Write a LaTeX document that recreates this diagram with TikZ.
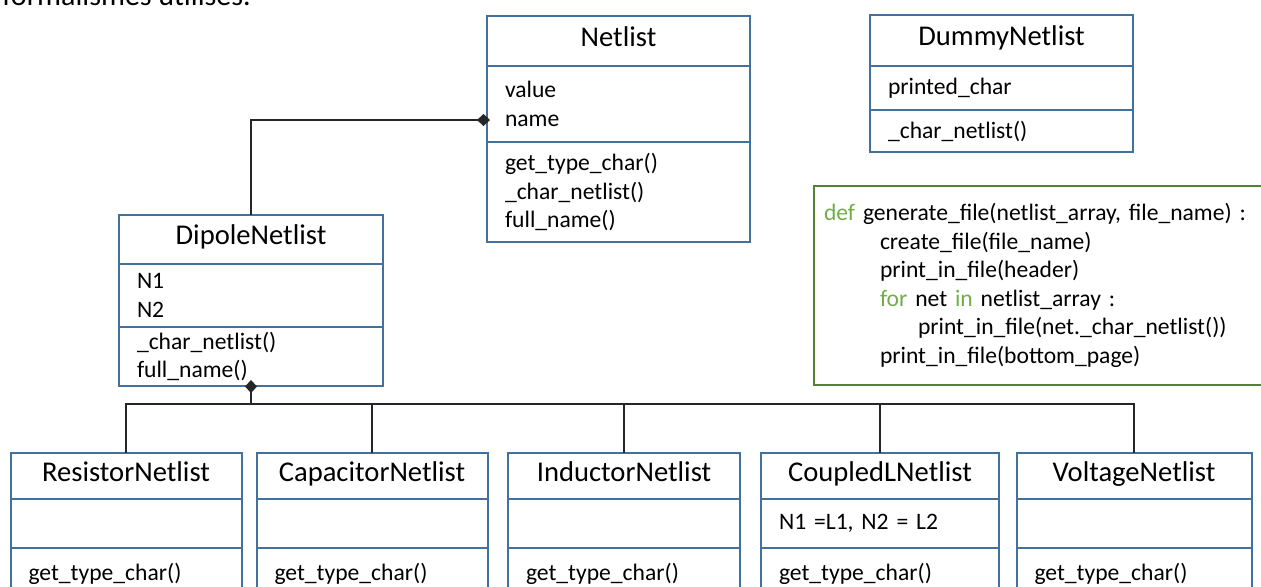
\documentclass[tikz,border=0pt]{standalone}
\usepackage{fontspec}
\setmainfont{Carlito}
\definecolor{umlblue}{RGB}{65,113,156}
\definecolor{codegreen}{RGB}{84,130,53}
\definecolor{keygreen}{RGB}{112,173,71}
\usetikzlibrary{arrows.meta,positioning}
\newcommand{\kw}[1]{\textcolor{keygreen}{#1}}
\newcommand{\headfont}{\fontsize{14.3}{17}\selectfont}
\newcommand{\bodyfont}{\fontsize{11.8}{14.25}\selectfont}
\tikzset{
    headbox/.style={draw=umlblue, line width=1pt, outer sep=0pt, inner sep=0pt,
                    text height=10pt, text depth=5pt, align=center, font=\headfont},
    partbox/.style={draw=umlblue, line width=1pt, outer sep=0pt, inner xsep=9pt,
                    inner ysep=0pt, align=left, font=\bodyfont},
    link/.style={draw=black!85, line width=0.6pt},
    owns/.style={link, -{Diamond[length=6.5pt,width=6pt]}, shorten >=#1},
    owns/.default=-3pt
}

\begin{document}
\begin{tikzpicture}[x=0.5pt, y=-0.5pt]
    \useasboundingbox (0,0) rectangle (1261,586);
    \node[anchor=base west, inner sep=0pt, font=\fontsize{15}{18}\selectfont] (intro) at (2,5) {formalismes utilisés.};

    % base class
    \node[headbox, anchor=north west, minimum width=131.5pt, minimum height=25pt] (net-head) at (487,16) {Netlist};
    \node[partbox, below=0pt of net-head, text width=113.5pt, minimum height=38pt] (net-attr) {value\\name};
    \node[partbox, below=0pt of net-attr, text width=113.5pt, minimum height=50pt] (net-ops)
        {get\_type\_char()\\\_char\_netlist()\\full\_name()};
    \coordinate (net-name) at ([yshift=-8pt]net-attr.west);

    \node[headbox, anchor=north west, minimum width=131.5pt, minimum height=25.5pt] (dummy-head) at (870,15) {DummyNetlist};
    \node[partbox, below=0pt of dummy-head, text width=113.5pt, minimum height=22pt] (dummy-attr) {printed\_char};
    \node[partbox, below=0pt of dummy-attr, text width=113.5pt, minimum height=21pt] (dummy-ops) {\_char\_netlist()};

    \node[headbox, anchor=north west, minimum width=132pt, minimum height=24.5pt] (dip-head) at (119,215) {DipoleNetlist};
    \node[partbox, below=0pt of dip-head, text width=114pt, minimum height=31.5pt] (dip-attr) {N1\\N2};
    \node[partbox, below=0pt of dip-attr, text width=114pt, minimum height=29.5pt] (dip-ops) {\_char\_netlist()\\full\_name()};
    \coordinate (bus) at ([yshift=-9pt]dip-ops.south);

    % code
    \node[draw=codegreen, line width=1pt, anchor=north west, inner xsep=5pt, inner ysep=0pt,
          text width=225pt, minimum height=99.5pt, align=left, font=\bodyfont] (gen-code) at (813,185) {
      \kw{def} generate\_file(netlist\_array, file\_name) :\\
      \hspace*{28pt}create\_file(file\_name)\\
      \hspace*{28pt}print\_in\_file(header)\\
      \hspace*{28pt}\kw{for} net \kw{in} netlist\_array :\\
      \hspace*{47pt}print\_in\_file(net.\_char\_netlist())\\
      \hspace*{28pt}print\_in\_file(bottom\_page)};

    % derived classes
    \foreach \cx/\w/\name/\title/\attr in {126/231/res/ResistorNetlist/{},
                                           372/231/cap/CapacitorNetlist/{},
                                           624/232/ind/InductorNetlist/{},
                                           880/238/coup/CoupledLNetlist/{N1 =L1, N2 = L2},
                                           1134/235/volt/VoltageNetlist/{}} {
        \pgfmathsetmacro\tw{\w/2-18}
        \node[headbox, anchor=north, minimum width=\w*0.5pt, minimum height=23pt] (\name-head) at (\cx,453) {\title};
        \node[partbox, below=0pt of \name-head, text width=\tw pt, minimum height=24.5pt] (\name-attr) {\attr};
        \node[partbox, below=0pt of \name-attr, text width=\tw pt, minimum height=26pt] (\name-ops) {get\_type\_char()};
    }

    % links
    \draw[owns=-1.5pt] (dip-head.north) |- (net-name);
    \draw[owns] (bus) -- (dip-ops.south);
    \draw[link] (res-head.north) |- (bus) -| (volt-head.north);
    \foreach \n in {cap,ind,coup}
        \draw[link] (\n-head.north) -- (\n-head.north |- bus);
\end{tikzpicture}
\end{document}
